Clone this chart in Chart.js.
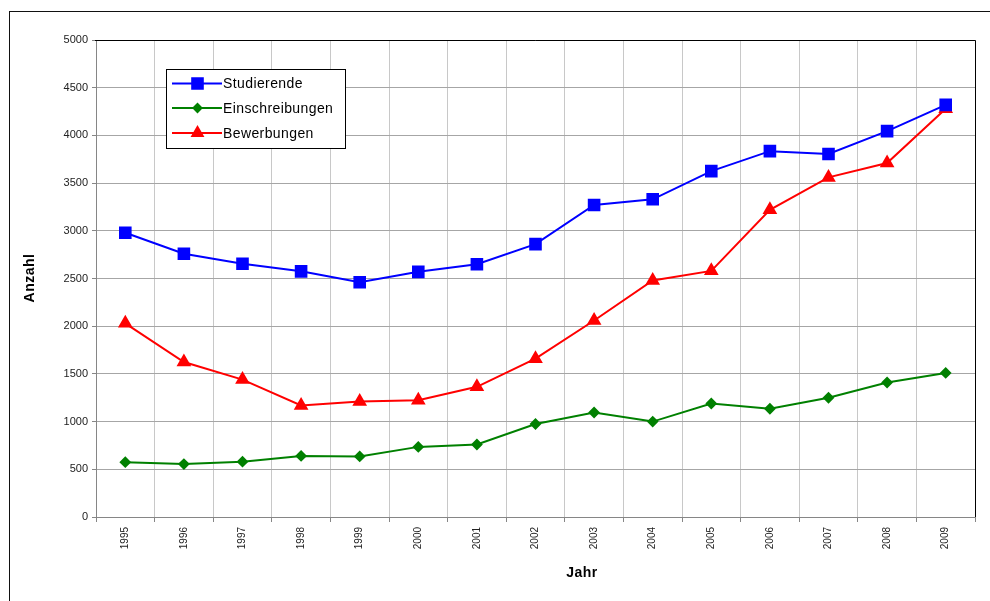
<!DOCTYPE html>
<html>
<head>
<meta charset="utf-8">
<script src="https://cdn.jsdelivr.net/npm/chart.js@4/dist/chart.umd.min.js"></script>
<style>
  html, body { margin: 0; padding: 0; background: #ffffff; }
  #wrap { width: 990px; height: 601px; position: relative; }
</style>
</head>
<body>
<div id="wrap"><canvas id="c" width="990" height="601"></canvas></div>
<script>
// Jahre (Kategorien)
const jahre = ['1995','1996','1997','1998','1999','2000','2001','2002','2003','2004','2005','2006','2007','2008','2009'];

// Reihen
const studierende     = [2980, 2760, 2655, 2575, 2460, 2570, 2650, 2860, 3270, 3330, 3625, 3835, 3805, 4045, 4320];
const einschreibungen = [575, 555, 580, 640, 635, 735, 760, 975, 1095, 1000, 1190, 1135, 1250, 1410, 1510];
const bewerbungen     = [2030, 1625, 1440, 1170, 1210, 1225, 1365, 1660, 2060, 2480, 2580, 3220, 3560, 3710, 4280];

// Achsen
const yTicks = [0, 500, 1000, 1500, 2000, 2500, 3000, 3500, 4000, 4500, 5000];
const yTitel = 'Anzahl';
const xTitel = 'Jahr';

const FONT = '"Liberation Sans", Arial, sans-serif';

// Rahmen um das Diagramm, Rahmen der Zeichenfläche, Achsentitel und Legende
const decor = {
  id: 'decor',
  beforeDatasetsDraw(chart) {
    const ctx = chart.ctx, a = chart.chartArea;
    ctx.save();
    ctx.strokeStyle = '#000000';
    ctx.lineWidth = 1;
    ctx.beginPath();
    ctx.moveTo(Math.round(a.left) - 1, Math.round(a.top) + 0.5);
    ctx.lineTo(Math.round(a.right) + 0.5, Math.round(a.top) + 0.5);
    ctx.lineTo(Math.round(a.right) + 0.5, Math.round(a.bottom));
    ctx.stroke();
    ctx.restore();
  },
  afterDraw(chart) {
    const ctx = chart.ctx;
    ctx.save();
    // äußerer Rahmen
    ctx.strokeStyle = '#111111';
    ctx.lineWidth = 1;
    ctx.strokeRect(9.5, 11.5, 1000, 700);

    // Achsentitel
    ctx.fillStyle = '#000000';
    ctx.font = 'bold 14px ' + FONT;
    ctx.textAlign = 'center';
    ctx.textBaseline = 'middle';
    try { ctx.letterSpacing = '0.5px'; } catch (e) {}
    ctx.fillText(xTitel, 582, 573);
    ctx.save();
    ctx.translate(30, 278);
    ctx.rotate(-Math.PI / 2);
    ctx.fillText(yTitel, 0, 0);
    ctx.restore();

    // Legende
    const box = { x: 166.5, y: 69.5, w: 179, h: 79 };
    ctx.fillStyle = '#ffffff';
    ctx.fillRect(box.x, box.y, box.w, box.h);
    ctx.strokeStyle = '#000000';
    ctx.lineWidth = 1;
    ctx.strokeRect(box.x, box.y, box.w, box.h);
    const rows = [83.5, 108, 133];
    const sizes = [7.5, 4, 6];
    ctx.font = '14px ' + FONT;
    try { ctx.letterSpacing = '0.4px'; } catch (e) {}
    ctx.textAlign = 'left';
    ctx.textBaseline = 'middle';
    chart.data.datasets.forEach((ds, i) => {
      const y = rows[i];
      ctx.strokeStyle = ds.borderColor;
      ctx.lineWidth = 2;
      ctx.beginPath();
      ctx.moveTo(172, y);
      ctx.lineTo(222, y);
      ctx.stroke();
      ctx.fillStyle = ds.pointBackgroundColor;
      ctx.strokeStyle = ds.pointBorderColor;
      Chart.helpers.drawPoint(ctx, { pointStyle: ds.pointStyle, radius: sizes[i], borderWidth: 1, rotation: 0 }, 197.5, y);
      ctx.fillStyle = '#000000';
      ctx.fillText(ds.label, 223, y + 1);
    });
    ctx.restore();
  }
};

new Chart(document.getElementById('c'), {
  type: 'line',
  data: {
    labels: jahre,
    datasets: [
      { label: 'Studierende', data: studierende, borderColor: '#0000ff', backgroundColor: '#0000ff',
        pointBackgroundColor: '#0000ff', pointBorderColor: '#0000ff', pointStyle: 'rect', pointRadius: 7.5, borderWidth: 2 },
      { label: 'Einschreibungen', data: einschreibungen, borderColor: '#008000', backgroundColor: '#008000',
        pointBackgroundColor: '#008000', pointBorderColor: '#008000', pointStyle: 'rectRot', pointRadius: 4.5, borderWidth: 2 },
      { label: 'Bewerbungen', data: bewerbungen, borderColor: '#ff0000', backgroundColor: '#ff0000',
        pointBackgroundColor: '#ff0000', pointBorderColor: '#ff0000', pointStyle: 'triangle', pointRadius: 6.5, borderWidth: 2 }
    ]
  },
  options: {
    responsive: false,
    animation: false,
    devicePixelRatio: 1,
    layout: { padding: { top: 40, right: 15, left: 0, bottom: 0 } },
    elements: { line: { tension: 0 }, point: { borderWidth: 1, hoverRadius: 7 } },
    plugins: { legend: { display: false }, tooltip: { enabled: false }, title: { display: false } },
    scales: {
      x: {
        type: 'category',
        offset: true,
        grid: { offset: true, color: '#c8c8c8', lineWidth: 1, drawTicks: true, tickLength: 5, tickColor: '#868686' },
        border: { display: true, color: '#868686', width: 1 },
        ticks: { autoSkip: false, minRotation: 90, maxRotation: 90, padding: 5, color: '#222222',
                 font: { family: FONT, size: 10 } },
        afterFit(scale) { scale.height = 84; }
      },
      y: {
        min: 0, max: 5000,
        afterBuildTicks(scale) { scale.ticks = yTicks.map(v => ({ value: v })); },
        grid: { color: '#a6a6a6', lineWidth: 1, drawTicks: true, tickLength: 4, tickColor: '#868686' },
        border: { display: true, color: '#868686', width: 1 },
        ticks: { padding: 4, color: '#222222', font: { family: FONT, size: 11 },
                 callback: v => String(v) },
        afterFit(scale) { scale.width = 96; }
      }
    }
  },
  plugins: [decor]
});
</script>
</body>
</html>
